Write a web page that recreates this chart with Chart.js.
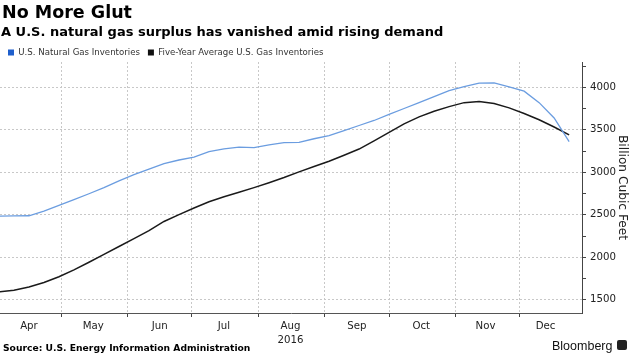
<!DOCTYPE html>
<html>
<head>
<meta charset="utf-8">
<script src="https://cdn.jsdelivr.net/npm/chart.js@4.4.1/dist/chart.umd.min.js"></script>
<style>
  html, body { margin: 0; padding: 0; background: #fff; }
  #wrap { position: relative; width: 630px; height: 354px; overflow: hidden; }
  #chart { position: absolute; left: 0; top: 0; }
  .txt { position: absolute; white-space: nowrap; color: #000; }
  #logo { position: absolute; left: 617px; top: 340px; width: 10px; height: 10px; background: #222; border-radius: 2px; }
</style>
</head>
<body>
<div id="wrap">
  <canvas id="chart" width="630" height="354"></canvas>
  <div class="txt" style="left:2px; top:4px; font:bold 17.5px/1 'DejaVu Sans';">No More Glut</div>
  <div class="txt" style="left:1px; top:24.7px; font:bold 13px/1 'DejaVu Sans';">A U.S. natural gas surplus has vanished amid rising demand</div>
  <div class="txt" style="left:3px; top:343px; font:bold 9.2px/1 'DejaVu Sans';">Source: U.S. Energy Information Administration</div>
  <div class="txt" style="left:552px; top:339.5px; font:12.5px/1 'Liberation Sans'; color:#111;">Bloomberg</div>
  <div id="logo"></div>
</div>
<script>
// weekly storage readings (Bcf), 2016
const weekEnding = [
  '2016-04-02', '2016-04-09', '2016-04-16', '2016-04-23', '2016-04-30',
  '2016-05-07', '2016-05-14', '2016-05-21', '2016-05-28',
  '2016-06-04', '2016-06-11', '2016-06-18', '2016-06-25',
  '2016-07-02', '2016-07-09', '2016-07-16', '2016-07-23', '2016-07-30',
  '2016-08-06', '2016-08-13', '2016-08-20', '2016-08-27',
  '2016-09-03', '2016-09-10', '2016-09-17', '2016-09-24',
  '2016-10-01', '2016-10-08', '2016-10-15', '2016-10-22', '2016-10-29',
  '2016-11-05', '2016-11-12', '2016-11-19', '2016-11-26',
  '2016-12-03', '2016-12-10', '2016-12-17', '2016-12-24'
];
const inventories = [
  2485, 2487, 2489, 2544, 2611, 2678, 2748, 2821, 2899, 2972,
  3038, 3103, 3145, 3180, 3243, 3276, 3297, 3290, 3323, 3349,
  3353, 3395, 3433, 3491, 3551, 3610, 3681, 3751, 3821, 3891,
  3962, 4009, 4049, 4051, 4006, 3955, 3820, 3640, 3362
];
const fiveYearAvg = [
  1593, 1612, 1650, 1703, 1772, 1853, 1942, 2035, 2127, 2220,
  2313, 2422, 2502, 2581, 2654, 2713, 2766, 2820, 2878, 2939,
  3005, 3068, 3130, 3201, 3274, 3370, 3469, 3571, 3652, 3718,
  3773, 3820, 3832, 3810, 3758, 3692, 3618, 3533, 3440
];
const seriesNames = ['U.S. Natural Gas Inventories', 'Five-Year Average U.S. Gas Inventories'];

// x axis: gridlines at month starts, labels mid-month
const monthStarts = ['2016-05-01', '2016-06-01', '2016-07-01', '2016-08-01', '2016-09-01', '2016-10-01', '2016-11-01', '2016-12-01'];
const monthLabels = ['Apr', 'May', 'Jun', 'Jul', 'Aug', 'Sep', 'Oct', 'Nov', 'Dec'];
const monthLabelDates = ['2016-04-16', '2016-05-16', '2016-06-16', '2016-07-16', '2016-08-16', '2016-09-16', '2016-10-16', '2016-11-15', '2016-12-13'];
const yearLabel = '2016';

// y axis ticks
const yMajor = [1500, 2000, 2500, 3000, 3500, 4000];
const yMinor = [1750, 2250, 2750, 3250, 3750, 4250];

const dayOf = s => (Date.UTC(+s.slice(0, 4), +s.slice(5, 7) - 1, +s.slice(8, 10)) - Date.UTC(2016, 0, 1)) / 864e5;
const startDays = monthStarts.map(dayOf);
const labelDays = monthLabelDates.map(dayOf);
const legendColors = ['#1f5fcc', '#111111'];

const gridDash = [2, 2];
const tickFont = { family: 'DejaVu Sans', size: 10.2 };

// pull the chart area up closer to the legend
const legendTighten = {
  id: 'legendTighten',
  beforeInit(chart) {
    const fit = chart.legend.fit;
    chart.legend.fit = function () {
      fit.bind(chart.legend)();
      this.height -= 4.8;
    };
  }
};

new Chart(document.getElementById('chart'), {
  type: 'line',
  data: {
    datasets: [
      {
        label: seriesNames[0],
        data: weekEnding.map((d, i) => ({ x: dayOf(d), y: inventories[i] })),
        borderColor: '#6b9de0',
        borderWidth: 1.3,
        pointRadius: 0,
        tension: 0,
        fill: false,
      },
      {
        label: seriesNames[1],
        data: weekEnding.map((d, i) => ({ x: dayOf(d), y: fiveYearAvg[i] })),
        borderColor: '#1a1a1a',
        borderWidth: 1.5,
        pointRadius: 0,
        tension: 0,
        fill: false,
      },
    ],
  },
  options: {
    responsive: false,
    devicePixelRatio: 1,
    animation: false,
    layout: { padding: { top: 40.2, left: 0, right: 0, bottom: 0 } },
    scales: {
      x: {
        type: 'linear',
        position: 'bottom',
        min: 92.5,
        max: 364,
        afterBuildTicks: axis => {
          axis.ticks = [...startDays, ...labelDays].sort((a, b) => a - b).map(v => ({ value: v }));
        },
        afterFit: axis => { axis.height = 41; },
        ticks: {
          autoSkip: false,
          maxRotation: 0,
          minRotation: 0,
          padding: 2,
          font: { ...tickFont, lineHeight: 1.4 },
          color: '#222',
          callback: value => {
            const i = labelDays.indexOf(value);
            if (i < 0) return '';
            return monthLabels[i] === 'Aug' ? [monthLabels[i], yearLabel] : monthLabels[i];
          },
        },
        grid: {
          color: ctx => (ctx.tick && startDays.includes(ctx.tick.value) ? '#c8c8c8' : 'rgba(0,0,0,0)'),
          tickColor: ctx => (ctx.tick && startDays.includes(ctx.tick.value) ? '#444' : 'rgba(0,0,0,0)'),
          tickLength: 4,
          tickBorderDash: [],
          lineWidth: 1,
        },
        border: { display: true, color: '#555', width: 1, dash: gridDash },
      },
      y: {
        type: 'linear',
        position: 'right',
        min: 1345,
        max: 4298,
        afterBuildTicks: axis => {
          axis.ticks = [...yMajor, ...yMinor].sort((a, b) => a - b).map(v => ({ value: v }));
        },
        afterFit: axis => { axis.width = 48; },
        ticks: {
          padding: 4,
          font: tickFont,
          color: '#222',
          callback: value => (yMajor.includes(value) ? String(value) : ''),
        },
        grid: {
          color: ctx => (ctx.tick && yMajor.includes(ctx.tick.value) ? '#c8c8c8' : 'rgba(0,0,0,0)'),
          tickColor: '#444',
          tickLength: 4,
          tickBorderDash: [],
          lineWidth: 1,
        },
        border: { display: true, color: '#444', width: 1, dash: gridDash },
        title: {
          display: true,
          text: 'Billion Cubic Feet',
          font: { family: 'DejaVu Sans', size: 12.2, lineHeight: 0.85 },
          color: '#222',
          padding: { top: 2.8, bottom: 0 },
        },
      },
    },
    plugins: {
      legend: {
        display: true,
        position: 'top',
        align: 'start',
        labels: {
          boxWidth: 6,
          boxHeight: 6,
          padding: 8,
          font: { family: 'DejaVu Sans', size: 8.6 },
          color: '#333',
          generateLabels: chart => chart.data.datasets.map((ds, i) => ({
            text: ds.label,
            fillStyle: legendColors[i],
            strokeStyle: legendColors[i],
            lineWidth: 0,
            hidden: false,
            datasetIndex: i,
            fontColor: '#333',
          })),
        },
      },
      tooltip: { enabled: false },
    },
  },
  plugins: [legendTighten],
});
</script>
</body>
</html>
